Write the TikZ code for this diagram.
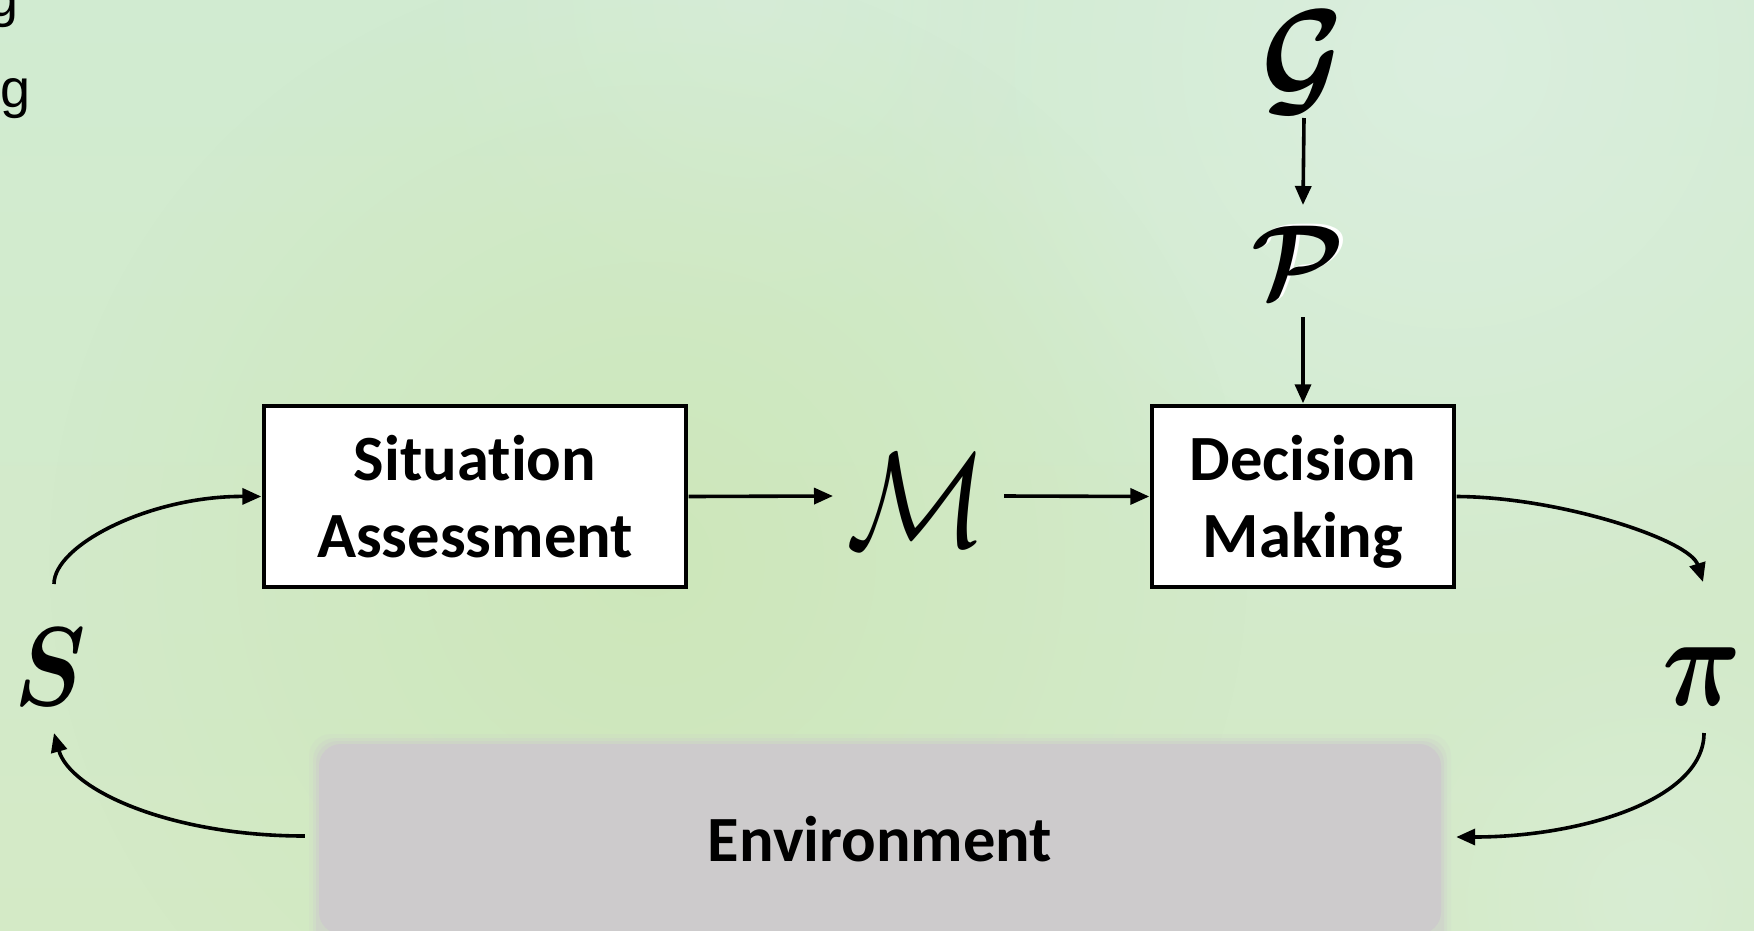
\documentclass[tikz,border=0pt]{standalone}
\usepackage{graphicx}
\usepackage{fontspec}
\setmainfont{Carlito}[Ligatures=NoCommon]
\newfontfamily\arialfont{Liberation Sans}
\usetikzlibrary{arrows.meta,calc,fadings}

\definecolor{bgtop}{HTML}{D1EBD1}
\definecolor{bgbottom}{HTML}{D4EAC6}
\definecolor{bgpale}{HTML}{DCEFE0}
\definecolor{bgwarm}{HTML}{CCE6B6}
\definecolor{envgray}{HTML}{CDCBCC}

\tikzfading[name=glow, inner color=transparent!0, outer color=transparent!100]

\tikzset{
  block/.style={draw=black, line width=3.4pt, fill=white, align=center,
    font=\fontsize{64.5}{77}\selectfont\bfseries, inner sep=0pt},
  symb/.style={inner sep=0pt, text=black},
  flow/.style={line width=3.6pt, -{Triangle[length=19pt,width=16pt]}},
}

\begin{document}
\begin{tikzpicture}[x=1pt,y=-1pt]
  \useasboundingbox (0,0) rectangle (1754,930);

  % background wash
  \shade[top color=bgtop, bottom color=bgbottom] (0,0) rectangle (1754,930);
  \begin{scope}
    \clip (0,0) rectangle (1754,930);
    \fill[bgpale, path fading=glow, opacity=0.9] (1450,60) circle (600);
    \fill[bgpale, path fading=glow, opacity=0.5] (750,0) circle (350);
    \fill[bgwarm, path fading=glow, opacity=0.8] (650,560) circle (600);
    \fill[bgpale, path fading=glow, opacity=0.5] (1650,900) circle (300);
  \end{scope}

  % soft halo round the environment panel
  \foreach \g/\o in {10/0.15, 6/0.25, 3/0.4} {
    \fill[envgray, opacity=\o, rounded corners=22pt]
      (319-\g,744-\g) rectangle (1441+\g,960);
  }
  \node[fill=envgray, rounded corners=22pt, minimum width=1122pt, minimum height=190pt,
        inner sep=0pt, font=\fontsize{64.5}{77}\selectfont\bfseries] (env) at (880,839) {Environment};

  % stray glyphs along the top-left edge
  \node[font=\arialfont\fontsize{54}{60}\selectfont, anchor=base west, inner sep=0pt] (ga) at (-12,16) {g};
  \node[font=\arialfont\fontsize{54}{60}\selectfont, anchor=base west, inner sep=0pt] (gb) at (0,107) {g};

  % blocks
  \node[block, minimum width=422pt, minimum height=181pt] (sa) at (475,496.5) {Situation\\Assessment};
  \node[block, minimum width=302pt, minimum height=181pt] (dm) at (1303,496.5) {Decision\\Makin\smash{g}};

  % symbols
  \node[symb] (M) at (917,500) {\scalebox{11.7}[13.5]{$\mathcal{M}$}};
  \node[symb] (G) at (1303,63) {\scalebox{11.2}[13.2]{\boldmath$\mathcal{G}$}};
  \node[symb, text=white] (Pw) at (1302,260) {\scalebox{10.4}{\boldmath$\mathcal{P}$}};
  \node[symb] (P) at (1298,262) {\scalebox{10.4}{\boldmath$\mathcal{P}$}};
  \node[symb] (S) at (50,667) {\scalebox{9.6}[11.2]{\boldmath$S$}};
  \node[symb] (pi) at (1702,677) {\scalebox{11}[13]{\boldmath$\pi$}};

  % connectors
  \draw[flow] ($(sa.east)+(1,0)$) -- ($(M)+(-84,-4)$);
  \draw[flow] ($(M)+(87,-4)$) -- ($(dm.west)+(-1,0)$);
  \draw[flow] ($(G)+(1,55)$) -- ($(P)+(5,-57)$);
  \draw[flow] ($(P)+(5,55)$) -- ($(dm.north)+(0,-1)$);

  \draw[flow] ($(S)+(4,-83)$) .. controls (54,545) and (150,496) .. ($(sa.west)+(-1,0)$);
  \draw[flow] ($(dm.east)+(1,0)$) .. controls (1560,497) and (1690,540) .. ($(pi)+(1,-95)$);
  \draw[flow] ($(pi)+(2,56)$) .. controls (1704,800) and (1580,837) .. ($(env.east)+(15,-2)$);
  \draw[flow] ($(env.west)+(-14,-3)$) .. controls (170,836) and (70,790) .. ($(S)+(4,66)$);
\end{tikzpicture}
\end{document}
